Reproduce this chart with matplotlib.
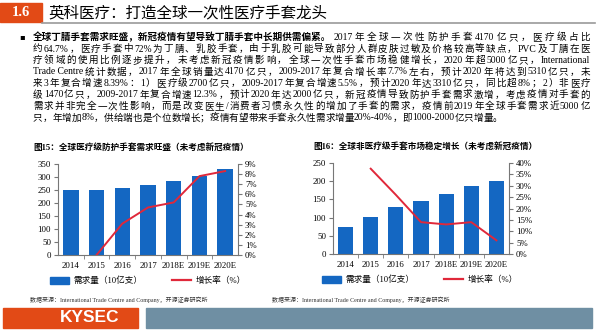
"""Slide 1.6: global disposable glove demand, two bar+line charts."""

import re

import matplotlib

matplotlib.use("Agg")
import matplotlib.pyplot as plt
from matplotlib.lines import Line2D
from matplotlib.patches import Patch, Rectangle

# ---- data -------------------------------------------------------------
years = ["2014", "2015", "2016", "2017", "2018E", "2019E", "2020E"]

medical_demand = [250, 250, 258, 270, 284, 305, 331]  # 10亿支
medical_growth = [None, 0.0, 3.1, 4.7, 5.2, 7.8, 8.3]  # %

nonmed_demand = [75, 102, 128, 146, 165, 188, 200]  # 10亿支
nonmed_growth = [None, 37.5, 26.0, 14.0, 13.0, 14.0, 6.0]  # %

header_no = "1.6"
header_title = "英科医疗：打造全球一次性医疗手套龙头"

body_bold = "全球丁腈手套需求旺盛，新冠疫情有望导致丁腈手套中长期供需偏紧。"
body_lines = [
    "2017年全球一次性防护手套4170亿只，医疗级占比",
    "约64.7%，医疗手套中72%为丁腈、乳胶手套，由于乳胶可能导致部分人群皮肤过敏及价格较高等缺点，PVC及丁腈在医",
    "疗领域的使用比例逐步提升，未考虑新冠疫情影响，全球一次性手套市场稳健增长，2020年超5000亿只，International",
    "Trade Centre统计数据，2017年全球销量达4170亿只，2009-2017年复合增长率7.7%左右，预计2020年将达到5310亿只，未",
    "来3年复合增速8.39%：1）医疗级2700亿只，2009-2017年复合增速5.5%，预计2020年达3310亿只，同比超8%；2）非医疗",
    "级1470亿只，2009-2017年复合增速12.3%，预计2020年达2000亿只，新冠疫情导致防护手套需求激增，考虑疫情对手套的",
    "需求并非完全一次性影响，而是改变医生/消费者习惯永久性的增加了手套的需求，疫情前2019年全球手套需求近5000亿",
    "只，年增加8%，供给端也是个位数增长；疫情有望带来手套永久性需求增量20%-40%，即1000-2000亿只增量。",
]

chart1_title = "图15：全球医疗级防护手套需求旺盛（未考虑新冠疫情）"
chart2_title = "图16：全球非医疗级手套市场稳定增长（未考虑新冠疫情）"
legend_bar = "需求量（10亿支）"
legend_line = "增长率（%）"
source = "数据来源：International Trade Centre and Company，开源证券研究所"

# ---- style ------------------------------------------------------------
W, H = 600, 335
ORANGE = "#E24A16"
BLUE = "#1467C2"
RED = "#E0283A"
SLATE = "#6F8FA3"
FONTS = ["Liberation Serif", "Noto Sans CJK SC", "DejaVu Sans"]
plt.rcParams["font.family"] = FONTS
plt.rcParams["axes.unicode_minus"] = False


def fx(x):
    return x / W


def fy(y):
    return 1 - y / H


fig = plt.figure(figsize=(W / 100, H / 100), dpi=100)
renderer = fig.canvas.get_renderer()

# header
fig.patches.append(Rectangle((0, fy(22)), fx(42), (22 - 3) / H,
                             transform=fig.transFigure, color=ORANGE))
fig.text(fx(21), fy(12.5), header_no, color="white", fontsize=10.5,
         fontweight="bold", ha="center", va="center")
fig.text(fx(48), fy(12.5), header_title, fontsize=11.2, ha="left",
         va="center", family=["Noto Sans CJK SC"])
fig.add_artist(Line2D([fx(42), fx(595)], [fy(23), fy(23)], color="#9a9a9a",
                      lw=1.2, transform=fig.transFigure))


def put_line(text, x_start, x_end, y, justify=True, **kw):
    """Draw one body line, spreading tokens so it fills x_start..x_end."""
    tokens = re.findall(r"[A-Za-z0-9.%\-/ ]+|.", text)
    arts = [fig.text(0, fy(y), t, ha="left", va="center", **kw)
            for t in tokens]
    widths = [a.get_window_extent(renderer).width for a in arts]
    gap = 0.0
    if justify and len(tokens) > 1:
        gap = (x_end - x_start - sum(widths)) / (len(tokens) - 1)
    x = x_start
    for a, w in zip(arts, widths):
        a.set_x(fx(x))
        x += w + gap
    return x - gap


# body text: size the bold lead so it ends where the reference's does
fig.text(fx(22), fy(37), "▪", fontsize=6, ha="center", va="center",
         family=["DejaVu Sans"])
y0, dy = 37.5, 11.5
tb = fig.text(fx(33), fy(y0), body_bold, fontsize=7.0, fontweight="bold",
              ha="left", va="center")
body_fs = 7.0 * 298 / tb.get_window_extent(renderer).width
tb.set_fontsize(body_fs)
bw = tb.get_window_extent(renderer).width
for i, line in enumerate(body_lines):
    x = 33 + bw + 2 if i == 0 else 33
    put_line(line, x, 590, y0 + i * dy, justify=i < len(body_lines) - 1,
             fontsize=body_fs)


def draw_chart(left, right, top, bottom, demand, growth, ymax, ystep,
               rmax, rstep, title, title_x, legend_x):
    ax = fig.add_axes([fx(left), fy(bottom), (right - left) / W,
                       (bottom - top) / H])
    pos = list(range(len(years)))
    ax.bar(pos, demand, width=0.6, color=BLUE, zorder=2)
    ax.set_xlim(-0.5, len(years) - 0.5)
    ax.set_ylim(0, ymax)
    ax.set_yticks(range(0, ymax + 1, ystep))
    ax.set_xticks(pos)
    ax.set_xticklabels(years)
    ax.set_xticks([p + 0.5 for p in pos[:-1]], minor=True)
    ax.tick_params(axis="x", which="major", length=0, labelsize=6.3, pad=5)
    ax.tick_params(axis="x", which="minor", length=3, color="#777777")
    ax.tick_params(axis="y", labelsize=6.3, length=3, color="#777777", pad=2)
    for s in ["top", "right"]:
        ax.spines[s].set_visible(False)
    for s in ["left", "bottom"]:
        ax.spines[s].set_color("#777777")
        ax.spines[s].set_linewidth(0.8)

    ax2 = ax.twinx()
    gx = [p for p, g in zip(pos, growth) if g is not None]
    gy = [g for g in growth if g is not None]
    ax2.plot(gx, gy, color=RED, lw=1.4, zorder=3)
    ax2.set_ylim(0, rmax)
    ax2.set_yticks(range(0, rmax + 1, rstep))
    ax2.set_yticklabels([f"{v}%" for v in range(0, rmax + 1, rstep)])
    ax2.tick_params(axis="y", labelsize=6.3, length=3, color="#777777", pad=2)
    for s in ["top", "left", "bottom"]:
        ax2.spines[s].set_visible(False)
    ax2.spines["right"].set_color("#777777")
    ax2.spines["right"].set_linewidth(0.8)

    fig.text(fx(title_x), fy(top - 17), title, fontsize=6.2,
             fontweight="bold", ha="left", va="center")
    handles = [Patch(color=BLUE), Line2D([], [], color=RED, lw=1.6)]
    fig.legend(handles, [legend_bar, legend_line], loc="center",
               bbox_to_anchor=(fx(legend_x), fy(bottom + 26)), ncol=2,
               frameon=False, fontsize=6.2, handlelength=2.2,
               handleheight=0.8, columnspacing=3.5, handletextpad=0.5)


draw_chart(58, 238, 164, 255, medical_demand, medical_growth, 350, 50,
           9, 1, chart1_title, 33, 148)
draw_chart(333, 509, 163, 254, nonmed_demand, nonmed_growth, 250, 50,
           40, 5, chart2_title, 313, 420)

# sources
for sx in (30, 272):
    fig.text(fx(sx), fy(300), source, fontsize=4.3, ha="left", va="center",
             color="#333333")

# footer
fig.patches.append(Rectangle((fx(3), fy(328)), fx(135), 20 / H,
                             transform=fig.transFigure, color=ORANGE))
fig.patches.append(Rectangle((fx(146), fy(328)), fx(446), 20 / H,
                             transform=fig.transFigure, color=SLATE))
fig.text(fx(90), fy(318), "KYSEC", color="white", fontsize=12.5,
         fontweight="bold", ha="center", va="center",
         family=["Liberation Sans"])

fig.savefig("out.png", dpi=100)
